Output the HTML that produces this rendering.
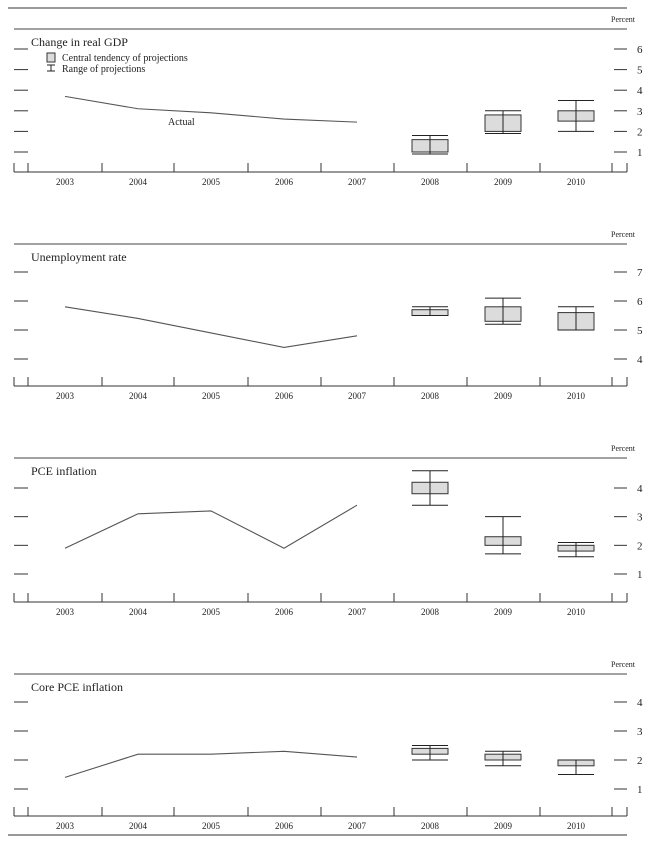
<!DOCTYPE html>
<html><head><meta charset="utf-8"><style>
html,body{margin:0;padding:0;background:#fff;}
svg{display:block;font-family:"Liberation Serif",serif;}
</style></head><body>
<svg id="c" width="650" height="842">
<line x1="8" y1="8" x2="627" y2="8" stroke="#333" stroke-width="1"/>
<line x1="8" y1="835" x2="627" y2="835" stroke="#333" stroke-width="1"/>
</svg>
<script>
const years = ["2003","2004","2005","2006","2007","2008","2009","2010"];
const titles = ["Change in real GDP","Unemployment rate","PCE inflation","Core PCE inflation"];
const gdpActual = [3.7,3.1,2.9,2.6,2.45];
const unempActual = [5.8,5.4,4.9,4.4,4.8];
const pceActual = [1.9,3.1,3.2,1.9,3.4];
const coreActual = [1.4,2.2,2.2,2.3,2.1];
const gdpBoxLo = [1.0,2.0,2.5], gdpBoxHi = [1.6,2.8,3.0], gdpRngLo = [0.9,1.9,2.0], gdpRngHi = [1.8,3.0,3.5];
const unBoxLo = [5.5,5.3,5.0], unBoxHi = [5.7,5.8,5.6], unRngLo = [5.5,5.2,5.0], unRngHi = [5.8,6.1,5.8];
const pceBoxLo = [3.8,2.0,1.8], pceBoxHi = [4.2,2.3,2.0], pceRngLo = [3.4,1.7,1.6], pceRngHi = [4.6,3.0,2.1];
const coreBoxLo = [2.2,2.0,1.8], coreBoxHi = [2.4,2.2,2.0], coreRngLo = [2.0,1.8,1.5], coreRngHi = [2.5,2.3,2.0];
const gdpTicks = [1,2,3,4,5,6], unTicks = [4,5,6,7], pceTicks = [1,2,3,4], coreTicks = [1,2,3,4];

const panels = [
 {top:29, axis:172, v0:1, p0:152, v1:6, p1:49, ticks:gdpTicks, act:gdpActual, bl:gdpBoxLo, bh:gdpBoxHi, rl:gdpRngLo, rh:gdpRngHi, name:"gdp"},
 {top:244, axis:386, v0:4, p0:359, v1:7, p1:272, ticks:unTicks, act:unempActual, bl:unBoxLo, bh:unBoxHi, rl:unRngLo, rh:unRngHi, name:"unemployment"},
 {top:458, axis:602, v0:1, p0:574, v1:4, p1:488, ticks:pceTicks, act:pceActual, bl:pceBoxLo, bh:pceBoxHi, rl:pceRngLo, rh:pceRngHi, name:"pce"},
 {top:674, axis:816, v0:1, p0:789, v1:4, p1:702, ticks:coreTicks, act:coreActual, bl:coreBoxLo, bh:coreBoxHi, rl:coreRngLo, rh:coreRngHi, name:"core-pce"}
];
const svg = document.getElementById('c');
const NS = "http://www.w3.org/2000/svg";
function mk(tag, attrs, parent){const e=document.createElementNS(NS,tag);for(const k in attrs)e.setAttribute(k,attrs[k]);(parent||svg).appendChild(e);return e;}
const xc = i => 65 + 73*i;
const bounds = [14,28,102,174,248,321,394,467,540,612,627];

panels.forEach((p,pi)=>{
  const ys = v => p.p0 + (v-p.v0)*(p.p1-p.p0)/(p.v1-p.v0);
  const g = mk('g',{});
  
  
  let t = mk('text',{x:611,y:p.top-7,'font-size':8,fill:'#222'},g); t.textContent="Percent";
  
  
  let l = mk('line',{x1:14,y1:p.top,x2:627,y2:p.top,stroke:'#444','stroke-width':1},g);
  
  
  t = mk('text',{x:31,y:p.top+17,'font-size':12,fill:'#222'},g); t.textContent=titles[pi];
  
  
  p.ticks.forEach(v=>{
    const y = ys(v);
    let a = mk('line',{x1:14,y1:y,x2:28,y2:y,stroke:'#333'},g);
    
    
    a = mk('line',{x1:614,y1:y,x2:627,y2:y,stroke:'#333'},g);
    
    
    const tl = mk('text',{x:637,y:y+4,'font-size':11,fill:'#222'},g); tl.textContent=v;
    
    
  });
  l = mk('line',{x1:14,y1:p.axis,x2:627,y2:p.axis,stroke:'#333'},g);
  
  
  bounds.forEach(x=>{
    const tk = mk('line',{x1:x,y1:p.axis,x2:x,y2:p.axis-9,stroke:'#333'},g);
    
    
  });
  years.forEach((yr,i)=>{
    const tl = mk('text',{x:xc(i),y:p.axis+13,'font-size':9,'text-anchor':'middle',fill:'#222'},g); tl.textContent=yr;
    
    
  });
  const pts = p.act.map((v,i)=>xc(i)+','+ys(v)).join(' ');
  const pl = mk('polyline',{points:pts,fill:'none',stroke:'#555','stroke-width':1.1},g);
  
  
  p.bl.forEach((lo,j)=>{
    const cx = xc(5+j), w = 36;
    const yl = ys(lo), yh = ys(p.bh[j]);
    const r = mk('rect',{x:cx-w/2,y:yh,width:w,height:Math.max(1,yl-yh),fill:'#dcdcdc',stroke:'#333','stroke-width':1},g);
    
    
    const rl = ys(p.rl[j]), rh = ys(p.rh[j]);
    let a = mk('line',{x1:cx,y1:rh,x2:cx,y2:rl,stroke:'#222'},g);
    
    
    a = mk('line',{x1:cx-w/2,y1:rh,x2:cx+w/2,y2:rh,stroke:'#222'},g);
    
    
    a = mk('line',{x1:cx-w/2,y1:rl,x2:cx+w/2,y2:rl,stroke:'#222'},g);
    
    
  });
  if(pi===0){
    const lg = mk('g',{},g);
    
    
    let r = mk('rect',{x:47,y:53,width:8,height:9,fill:'#dcdcdc',stroke:'#333'},lg);
    
    
    let tl = mk('text',{x:62,y:61,'font-size':10,fill:'#222'},lg); tl.textContent="Central tendency of projections";
    
    
    mk('line',{x1:47,y1:65,x2:55,y2:65,stroke:'#222'},lg);
    mk('line',{x1:47,y1:71,x2:55,y2:71,stroke:'#222'},lg);
    mk('line',{x1:51,y1:65,x2:51,y2:71,stroke:'#222'},lg);
    tl = mk('text',{x:62,y:72,'font-size':10,fill:'#222'},lg); tl.textContent="Range of projections";
    
    
    tl = mk('text',{x:168,y:125,'font-size':10,fill:'#222'},g); tl.textContent="Actual";
    
    
  }
});
</script>
</body></html>
